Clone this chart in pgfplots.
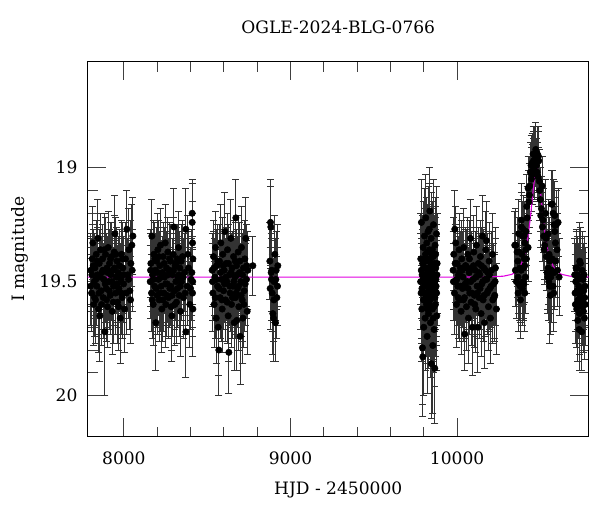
\documentclass[border=0pt]{standalone}
\usepackage{fontspec}
\setmainfont{DejaVu Serif}
\usepackage{pgfplots}
\usepackage{pgfplotstable}
\pgfplotsset{compat=1.18}
\definecolor{model}{RGB}{225,0,225}
\pgfplotstableread{
t m e
7802 19.45 0.16
7806 19.55 0.17
7810 19.40 0.15
7814 19.33 0.16
7818 19.60 0.18
7822 19.50 0.16
7826 19.44 0.15
7830 19.58 0.19
7834 19.38 0.15
7838 19.52 0.17
7842 19.47 0.16
7844 19.31 0.17
7848 19.62 0.19
7852 19.42 0.15
7856 19.65 0.20
7860 19.36 0.16
7864 19.54 0.17
7868 19.46 0.16
7872 19.40 0.15
7876 19.57 0.18
7880 19.49 0.16
7886 19.72 0.28
7890 19.38 0.16
7894 19.53 0.17
7898 19.44 0.15
7902 19.61 0.18
7906 19.35 0.16
7910 19.50 0.17
7914 19.42 0.15
7918 19.56 0.17
7922 19.47 0.16
7926 19.39 0.15
7930 19.63 0.19
7934 19.45 0.16
7938 19.52 0.17
7942 19.37 0.16
7946 19.29 0.17
7950 19.55 0.18
7954 19.48 0.16
7958 19.41 0.15
7962 19.59 0.18
7966 19.46 0.16
7970 19.53 0.17
7974 19.43 0.16
7978 19.66 0.20
7982 19.49 0.16
7986 19.38 0.15
7990 19.57 0.18
7994 19.44 0.16
7998 19.51 0.17
8004 19.62 0.19
8010 19.40 0.16
8018 19.27 0.17
8024 19.47 0.16
8030 19.36 0.18
8036 19.54 0.17
8042 19.42 0.19
8048 19.34 0.18
8054 19.30 0.17
7800 19.52 0.17
7808 19.47 0.16
7816 19.43 0.16
7824 19.57 0.17
7832 19.49 0.16
7840 19.41 0.15
7850 19.55 0.18
7858 19.48 0.16
7866 19.60 0.18
7874 19.45 0.16
7882 19.36 0.16
7888 19.51 0.17
7896 19.58 0.18
7904 19.46 0.16
7912 19.54 0.17
7920 19.40 0.16
7928 19.50 0.17
7936 19.59 0.18
7944 19.44 0.16
7952 19.38 0.16
7960 19.51 0.17
7968 19.61 0.19
7976 19.47 0.16
7984 19.55 0.18
7992 19.40 0.16
8000 19.47 0.17
8014 19.55 0.18
8028 19.49 0.17
8040 19.58 0.19
8050 19.45 0.18
}\seasonA
\pgfplotstableread{
t m e
8158 19.50 0.16
8162 19.42 0.15
8166 19.55 0.17
8168 19.30 0.16
8172 19.47 0.16
8176 19.60 0.18
8180 19.38 0.15
8184 19.52 0.17
8188 19.45 0.16
8192 19.68 0.21
8196 19.41 0.15
8200 19.56 0.17
8204 19.36 0.16
8208 19.49 0.16
8212 19.58 0.18
8216 19.43 0.15
8220 19.34 0.16
8224 19.52 0.17
8228 19.62 0.19
8232 19.46 0.16
8236 19.39 0.15
8240 19.55 0.17
8244 19.48 0.16
8248 19.33 0.17
8252 19.60 0.19
8256 19.44 0.16
8260 19.51 0.17
8264 19.37 0.15
8268 19.57 0.18
8272 19.45 0.16
8276 19.53 0.17
8280 19.41 0.16
8284 19.61 0.19
8288 19.65 0.20
8292 19.47 0.16
8296 19.38 0.16
8300 19.26 0.17
8304 19.54 0.17
8308 19.43 0.16
8312 19.50 0.17
8316 19.59 0.18
8320 19.40 0.15
8324 19.48 0.16
8328 19.35 0.16
8332 19.56 0.18
8336 19.44 0.16
8340 19.63 0.20
8346 19.50 0.17
8352 19.39 0.16
8358 19.57 0.18
8364 19.46 0.17
8372 19.27 0.18
8372 19.72 0.20
8380 19.52 0.17
8388 19.44 0.16
8396 19.60 0.19
8404 19.49 0.18
8410 19.20 0.15
8410 19.24 0.17
8412 19.33 0.18
8412 19.55 0.19
8414 19.40 0.20
8414 19.62 0.21
8160 19.45 0.16
8170 19.58 0.17
8178 19.49 0.16
8186 19.40 0.16
8194 19.53 0.17
8202 19.46 0.16
8210 19.39 0.16
8218 19.55 0.17
8226 19.48 0.16
8234 19.58 0.18
8242 19.42 0.16
8250 19.51 0.17
8258 19.56 0.18
8266 19.47 0.16
8274 19.40 0.16
8282 19.52 0.17
8290 19.56 0.18
8298 19.45 0.16
8306 19.60 0.18
8314 19.42 0.16
8322 19.53 0.17
8330 19.47 0.17
8338 19.52 0.17
8344 19.41 0.16
8356 19.48 0.17
8368 19.55 0.18
8384 19.38 0.17
8400 19.53 0.18
8408 19.46 0.19
8413 19.50 0.20
}\seasonB
\pgfplotstableread{
t m e
8530 19.45 0.16
8534 19.55 0.17
8538 19.39 0.16
8542 19.60 0.19
8546 19.48 0.17
8550 19.35 0.16
8554 19.66 0.20
8558 19.43 0.16
8562 19.52 0.17
8566 19.70 0.21
8570 19.80 0.20
8574 19.41 0.16
8578 19.57 0.18
8582 19.33 0.17
8586 19.49 0.16
8590 19.62 0.19
8594 19.38 0.16
8598 19.54 0.17
8602 19.45 0.16
8606 19.28 0.17
8610 19.58 0.18
8614 19.42 0.16
8618 19.50 0.17
8622 19.36 0.16
8626 19.65 0.20
8630 19.81 0.18
8634 19.47 0.16
8638 19.55 0.17
8642 19.31 0.17
8646 19.60 0.19
8650 19.44 0.16
8654 19.52 0.18
8658 19.39 0.16
8662 19.68 0.21
8666 19.48 0.17
8670 19.57 0.18
8672 19.22 0.17
8676 19.43 0.16
8678 19.67 0.22
8682 19.53 0.17
8686 19.37 0.16
8690 19.61 0.19
8694 19.46 0.17
8698 19.74 0.21
8702 19.50 0.17
8706 19.35 0.18
8710 19.58 0.18
8714 19.66 0.20
8718 19.44 0.17
8722 19.54 0.18
8726 19.40 0.17
8732 19.31 0.18
8736 19.49 0.17
8740 19.63 0.19
8744 19.45 0.17
8774 19.43 0.13
8876 19.41 0.17
8878 19.53 0.18
8880 19.24 0.19
8882 19.26 0.18
8884 19.46 0.17
8886 19.49 0.18
8890 19.55 0.17
8894 19.64 0.18
8898 19.66 0.19
8902 19.50 0.18
8906 19.38 0.17
8910 19.68 0.17
8914 19.45 0.17
8918 19.57 0.18
8922 19.52 0.17
8924 19.43 0.18
8532 19.50 0.17
8540 19.44 0.16
8548 19.57 0.18
8556 19.49 0.17
8564 19.41 0.16
8572 19.53 0.17
8580 19.46 0.17
8588 19.58 0.18
8596 19.43 0.16
8604 19.51 0.17
8612 19.48 0.17
8620 19.59 0.18
8628 19.42 0.17
8636 19.52 0.17
8644 19.46 0.17
8652 19.57 0.18
8660 19.50 0.17
8668 19.41 0.17
8674 19.55 0.18
8680 19.47 0.17
8688 19.52 0.18
8696 19.41 0.17
8704 19.56 0.18
8712 19.47 0.18
8720 19.60 0.19
8728 19.51 0.18
8738 19.43 0.18
8888 19.45 0.18
8900 19.58 0.18
8912 19.49 0.18
}\seasonC
\pgfplotstableread{
t m e
9782 19.40 0.20
9784 19.55 0.22
9786 19.24 0.19
9788 19.62 0.23
9790 19.47 0.20
9792 19.79 0.25
9794 19.83 0.26
9796 19.35 0.20
9798 19.58 0.22
9800 19.70 0.30
9802 19.44 0.20
9803 19.58 0.22
9804 19.30 0.21
9806 19.52 0.24
9808 19.66 0.23
9810 19.38 0.20
9811 19.47 0.21
9812 19.22 0.19
9814 19.48 0.22
9816 19.60 0.23
9817 19.40 0.22
9818 19.33 0.20
9820 19.74 0.25
9822 19.45 0.21
9823 19.62 0.24
9824 19.56 0.22
9826 19.28 0.20
9827 19.51 0.21
9828 19.64 0.24
9830 19.41 0.21
9832 19.50 0.22
9833 19.27 0.20
9834 19.36 0.20
9836 19.19 0.19
9838 19.58 0.23
9839 19.49 0.22
9840 19.68 0.24
9842 19.43 0.21
9844 19.31 0.20
9845 19.57 0.23
9846 19.86 0.24
9848 19.53 0.22
9850 19.46 0.21
9851 19.36 0.21
9852 19.62 0.23
9854 19.78 0.30
9856 19.39 0.21
9857 19.66 0.24
9858 19.25 0.20
9860 19.55 0.22
9862 19.71 0.25
9863 19.42 0.21
9864 19.48 0.22
9866 19.88 0.24
9868 19.34 0.21
9869 19.54 0.22
9870 19.60 0.23
9872 19.44 0.22
9874 19.52 0.22
9876 19.29 0.21
9878 19.65 0.24
9880 19.42 0.22
9781 19.50 0.21
9785 19.45 0.21
9789 19.53 0.22
9793 19.42 0.21
9797 19.49 0.21
9801 19.55 0.22
9805 19.41 0.21
9809 19.50 0.22
9813 19.57 0.22
9815 19.44 0.21
9819 19.52 0.22
9821 19.37 0.21
9825 19.46 0.21
9829 19.54 0.22
9831 19.60 0.23
9835 19.47 0.22
9837 19.40 0.21
9841 19.52 0.22
9843 19.61 0.23
9847 19.45 0.21
9849 19.38 0.21
9853 19.50 0.22
9855 19.56 0.23
9859 19.44 0.21
9861 19.61 0.23
9865 19.50 0.22
9867 19.57 0.23
9871 19.38 0.21
9873 19.49 0.22
9877 19.55 0.23
9879 19.47 0.22
}\seasonD
\pgfplotstableread{
t m e
9976 19.45 0.17
9980 19.38 0.16
9984 19.55 0.18
9986 19.27 0.17
9990 19.50 0.17
9992 19.33 0.16
9996 19.60 0.19
10000 19.42 0.16
10004 19.52 0.17
10008 19.47 0.17
10012 19.36 0.16
10016 19.58 0.18
10020 19.44 0.16
10024 19.63 0.19
10028 19.40 0.17
10032 19.53 0.17
10036 19.48 0.16
10040 19.35 0.17
10044 19.57 0.18
10046 19.73 0.16
10050 19.43 0.16
10052 19.43 0.17
10056 19.61 0.19
10060 19.50 0.17
10064 19.38 0.16
10068 19.66 0.20
10072 19.46 0.17
10076 19.55 0.18
10080 19.31 0.17
10084 19.59 0.19
10088 19.44 0.16
10092 19.70 0.21
10096 19.49 0.17
10100 19.37 0.16
10104 19.56 0.18
10108 19.45 0.17
10112 19.62 0.19
10116 19.34 0.17
10120 19.52 0.17
10124 19.70 0.20
10128 19.42 0.16
10132 19.57 0.18
10136 19.47 0.17
10140 19.39 0.16
10144 19.64 0.19
10148 19.51 0.17
10152 19.30 0.18
10156 19.58 0.18
10160 19.44 0.17
10164 19.68 0.20
10168 19.49 0.17
10172 19.36 0.17
10176 19.32 0.17
10180 19.55 0.18
10184 19.46 0.17
10188 19.61 0.19
10192 19.41 0.17
10196 19.53 0.18
10200 19.66 0.20
10206 19.45 0.17
10212 19.38 0.18
10218 19.51 0.18
10222 19.57 0.19
10226 19.56 0.19
10230 19.44 0.18
10236 19.62 0.20
9978 19.50 0.17
9988 19.42 0.17
9998 19.49 0.17
10006 19.57 0.18
10014 19.46 0.17
10022 19.52 0.17
10030 19.45 0.17
10038 19.58 0.18
10048 19.51 0.17
10058 19.44 0.17
10066 19.53 0.18
10074 19.40 0.17
10082 19.50 0.17
10090 19.55 0.18
10098 19.43 0.17
10106 19.60 0.19
10114 19.48 0.17
10122 19.55 0.18
10130 19.46 0.17
10138 19.53 0.18
10146 19.43 0.17
10154 19.50 0.17
10162 19.56 0.18
10170 19.45 0.17
10178 19.49 0.18
10186 19.54 0.18
10194 19.47 0.18
10204 19.52 0.18
10214 19.58 0.19
10228 19.50 0.19
}\seasonE
\pgfplotstableread{
t m e
10346 19.34 0.15
10352 19.34 0.16
10360 19.37 0.15
10366 19.48 0.16
10366 19.55 0.17
10372 19.51 0.16
10372 19.37 0.15
10376 19.44 0.16
10380 19.58 0.17
10386 19.26 0.15
10386 19.23 0.16
10392 19.30 0.15
10392 19.53 0.16
10396 19.27 0.15
10396 19.50 0.16
10400 19.51 0.16
10404 19.40 0.15
10406 19.55 0.17
10406 19.33 0.15
10406 19.43 0.16
10412 19.36 0.15
10416 19.40 0.15
10420 19.22 0.14
10426 19.35 0.15
10426 19.09 0.14
10430 19.15 0.14
10436 19.08 0.13
10440 19.02 0.13
10446 19.05 0.14
10450 18.98 0.13
10456 18.94 0.12
10460 19.00 0.13
10466 18.94 0.12
10470 18.96 0.12
10476 18.99 0.12
10482 18.94 0.12
10486 19.04 0.13
10490 18.97 0.13
10496 19.10 0.13
10500 19.14 0.14
10506 19.18 0.14
10510 19.08 0.13
10516 19.23 0.14
10520 19.30 0.15
10526 19.34 0.15
10530 19.20 0.15
10536 19.39 0.15
10540 19.46 0.16
10546 19.44 0.16
10546 19.29 0.15
10550 19.50 0.17
10556 19.46 0.16
10556 19.41 0.16
10556 19.52 0.25
10560 19.56 0.17
10566 19.16 0.15
10566 19.52 0.16
10566 19.45 0.16
10572 19.16 0.15
10576 19.20 0.15
10576 19.52 0.16
10580 19.55 0.17
10582 19.25 0.15
10586 19.28 0.15
10586 19.21 0.15
10592 19.41 0.16
10596 19.25 0.15
10600 19.36 0.16
10606 19.24 0.15
10612 19.48 0.17
10350 19.45 0.16
10356 19.50 0.16
10364 19.41 0.16
10370 19.29 0.15
10378 19.52 0.16
10384 19.45 0.16
10390 19.38 0.15
10398 19.44 0.16
10402 19.30 0.15
10410 19.48 0.16
10414 19.28 0.15
10418 19.17 0.14
10434 19.12 0.14
10444 18.99 0.13
10452 19.03 0.13
10458 18.97 0.13
10464 19.01 0.13
10472 18.92 0.12
10480 19.02 0.13
10488 18.95 0.13
10494 19.06 0.14
10502 19.21 0.14
10512 19.26 0.15
10522 19.36 0.15
10534 19.31 0.15
10544 19.48 0.16
10552 19.38 0.16
10562 19.48 0.16
10570 19.40 0.16
10584 19.46 0.16
10590 19.33 0.16
10602 19.45 0.16
10706 19.47 0.16
10710 19.60 0.17
10714 19.44 0.16
10716 19.44 0.17
10720 19.54 0.17
10724 19.67 0.18
10728 19.49 0.16
10732 19.71 0.18
10736 19.41 0.17
10740 19.42 0.16
10744 19.60 0.17
10748 19.72 0.17
10752 19.61 0.17
10756 19.49 0.16
10760 19.54 0.17
10764 19.66 0.18
10768 19.52 0.17
10708 19.55 0.17
10712 19.50 0.17
10718 19.62 0.17
10722 19.47 0.17
10726 19.58 0.17
10730 19.52 0.17
10734 19.64 0.18
10738 19.56 0.17
10742 19.48 0.17
10746 19.53 0.17
10750 19.45 0.17
10754 19.58 0.17
10758 19.63 0.18
10762 19.47 0.17
10766 19.57 0.17
10770 19.60 0.18
}\seasonF
\pgfplotstableread{
t m
7783 19.480
8500 19.480
9000 19.480
9500 19.480
10000 19.480
10178 19.479
10278 19.476
10328 19.468
10358 19.455
10378 19.435
10398 19.400
10408 19.375
10418 19.340
10428 19.290
10438 19.230
10448 19.160
10458 19.090
10468 19.030
10473 19.008
10478 19.000
10483 19.008
10488 19.030
10498 19.090
10508 19.160
10518 19.230
10528 19.290
10538 19.340
10548 19.375
10558 19.400
10578 19.435
10598 19.455
10628 19.468
10678 19.476
10778 19.479
10790 19.480
}\model
\begin{document}
\begin{tikzpicture}
\useasboundingbox (-65.8pt,-56.5pt) rectangle (384.2pt,327.5pt);
\begin{axis}[
  at={(0,0)}, anchor=south west,
  scale only axis,
  width=375.75pt, height=281.25pt,
  xmin=7783, xmax=10790,
  ymin=18.535, ymax=20.18,
  y dir=reverse,
  xtick={8000,9000,10000},
  ytick={19,19.5,20},
  scaled x ticks=false,
  minor x tick num=4,
  minor y tick num=4,
  tick align=inside,
  xtick pos=both, ytick pos=both,
  major tick length=14pt,
  minor tick length=7.5pt,
  tick style={line width=0.6pt, black!75},
  axis line style={line width=0.9pt},
  /pgf/number format/.cd, 1000 sep={}, assume math mode=true, /pgfplots/.cd,
  tick label style={font=\fontsize{12.8}{15}\selectfont, inner sep=0pt},
  xticklabel style={anchor=base, yshift=-21.2pt},
  yticklabel style={anchor=east, xshift=-7.5pt},
  label style={font=\fontsize{12.8}{15}\selectfont},
  title style={font=\fontsize{12.8}{15}\selectfont, at={(axis description cs:0.5,1)}, anchor=base, yshift=15.5pt},
  title={OGLE-2024-BLG-0766},
  xlabel={HJD - 2450000},
  ylabel={I magnitude},
  xlabel style={at={(axis description cs:0.5,0)}, anchor=base, yshift=-43.3pt},
  ylabel style={at={(axis description cs:-0.135,0.5)}, anchor=center},
]
\pgfplotsset{
  lcpt/.style={only marks, mark=*, mark size=2.4pt, black, mark options={fill=black, draw=black},
    error bars/.cd, y dir=both, y explicit,
    error bar style={black!80, line width=0.6pt},
    error mark options={rotate=90, black!80, mark size=2.6pt, line width=0.6pt}}
}
\addplot[lcpt] table[x=t, y=m, y error=e] {\seasonA};
\addplot[lcpt] table[x=t, y=m, y error=e] {\seasonB};
\addplot[lcpt] table[x=t, y=m, y error=e] {\seasonC};
\addplot[lcpt] table[x=t, y=m, y error=e] {\seasonD};
\addplot[lcpt] table[x=t, y=m, y error=e] {\seasonE};
\addplot[lcpt] table[x=t, y=m, y error=e] {\seasonF};
\addplot[model, line width=0.8pt, no markers] table[x=t, y=m] {\model};
\end{axis}
\end{tikzpicture}
\end{document}
